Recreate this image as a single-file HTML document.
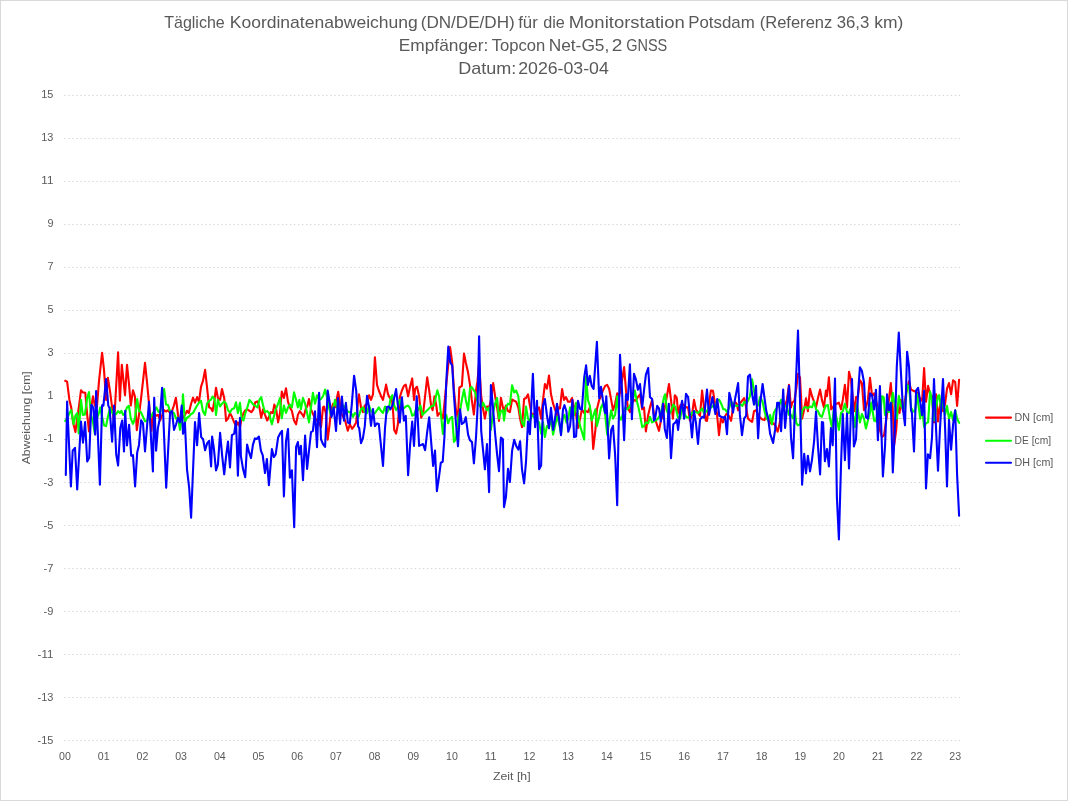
<!DOCTYPE html><html><head><meta charset="utf-8"><title>Tägliche Koordinatenabweichung</title>
<style>html,body{margin:0;padding:0;background:#fff}svg{display:block}text{font-family:"Liberation Sans",sans-serif;fill:#595959}</style></head><body>
<svg width="1068" height="801" viewBox="0 0 1068 801">
<rect x="0" y="0" width="1068" height="801" fill="#fff"/>
<rect x="0.5" y="0.5" width="1067" height="800" fill="none" stroke="#d9d9d9" stroke-width="1"/>
<g font-size="17">
<text y="28.0"><tspan x="164.20" textLength="60.60" lengthAdjust="spacingAndGlyphs">Tägliche</tspan> <tspan x="229.70" textLength="188.10" lengthAdjust="spacingAndGlyphs">Koordinatenabweichung</tspan> <tspan x="420.70" textLength="94.10" lengthAdjust="spacingAndGlyphs">(DN/DE/DH)</tspan> <tspan x="518.20" textLength="19.60" lengthAdjust="spacingAndGlyphs">für</tspan> <tspan x="543.20" textLength="21.60" lengthAdjust="spacingAndGlyphs">die</tspan> <tspan x="568.70" textLength="116.10" lengthAdjust="spacingAndGlyphs">Monitorstation</tspan> <tspan x="688.20" textLength="66.60" lengthAdjust="spacingAndGlyphs">Potsdam</tspan> <tspan x="759.70" textLength="72.60" lengthAdjust="spacingAndGlyphs">(Referenz</tspan> <tspan x="836.70" textLength="32.60" lengthAdjust="spacingAndGlyphs">36,3</tspan> <tspan x="874.20" textLength="29.10" lengthAdjust="spacingAndGlyphs">km)</tspan></text>
<text y="51.0"><tspan x="398.70" textLength="89.60" lengthAdjust="spacingAndGlyphs">Empfänger:</tspan> <tspan x="491.70" textLength="53.60" lengthAdjust="spacingAndGlyphs">Topcon</tspan> <tspan x="548.70" textLength="60.60" lengthAdjust="spacingAndGlyphs">Net-G5,</tspan> <tspan x="611.70" textLength="10.60" lengthAdjust="spacingAndGlyphs">2</tspan> <tspan x="626.20" textLength="41.10" lengthAdjust="spacingAndGlyphs">GNSS</tspan></text>
<text y="73.6"><tspan x="458.20" textLength="58.10" lengthAdjust="spacingAndGlyphs">Datum:</tspan> <tspan x="518.20" textLength="90.60" lengthAdjust="spacingAndGlyphs">2026-03-04</tspan></text>
</g>
<g stroke="#d6d6d6" stroke-width="1" stroke-dasharray="1.4 2.63" stroke-dashoffset="-0.2" fill="none">
<line x1="64" y1="95.5" x2="960" y2="95.5"/>
<line x1="64" y1="138.5" x2="960" y2="138.5"/>
<line x1="64" y1="181.5" x2="960" y2="181.5"/>
<line x1="64" y1="224.5" x2="960" y2="224.5"/>
<line x1="64" y1="267.5" x2="960" y2="267.5"/>
<line x1="64" y1="310.5" x2="960" y2="310.5"/>
<line x1="64" y1="353.5" x2="960" y2="353.5"/>
<line x1="64" y1="396.5" x2="960" y2="396.5"/>
<line x1="64" y1="439.5" x2="960" y2="439.5"/>
<line x1="64" y1="482.5" x2="960" y2="482.5"/>
<line x1="64" y1="525.5" x2="960" y2="525.5"/>
<line x1="64" y1="568.5" x2="960" y2="568.5"/>
<line x1="64" y1="611.5" x2="960" y2="611.5"/>
<line x1="64" y1="654.5" x2="960" y2="654.5"/>
<line x1="64" y1="697.5" x2="960" y2="697.5"/>
<line x1="64" y1="740.5" x2="960" y2="740.5"/>
</g>
<line x1="64" y1="418.5" x2="960" y2="418.5" stroke="#d0d0d0" stroke-width="1"/>
<g font-size="11.5" text-anchor="end">
<text x="53.4" y="97.9" textLength="12.1" lengthAdjust="spacingAndGlyphs">15</text>
<text x="53.4" y="141.0" textLength="12.1" lengthAdjust="spacingAndGlyphs">13</text>
<text x="53.4" y="184.0" textLength="12.1" lengthAdjust="spacingAndGlyphs">11</text>
<text x="53.4" y="227.1" textLength="6.0" lengthAdjust="spacingAndGlyphs">9</text>
<text x="53.4" y="270.2" textLength="6.0" lengthAdjust="spacingAndGlyphs">7</text>
<text x="53.4" y="313.2" textLength="6.0" lengthAdjust="spacingAndGlyphs">5</text>
<text x="53.4" y="356.3" textLength="6.0" lengthAdjust="spacingAndGlyphs">3</text>
<text x="53.4" y="399.4" textLength="6.0" lengthAdjust="spacingAndGlyphs">1</text>
<text x="53.4" y="442.4" textLength="9.8" lengthAdjust="spacingAndGlyphs">-1</text>
<text x="53.4" y="485.5" textLength="9.8" lengthAdjust="spacingAndGlyphs">-3</text>
<text x="53.4" y="528.6" textLength="9.8" lengthAdjust="spacingAndGlyphs">-5</text>
<text x="53.4" y="571.6" textLength="9.8" lengthAdjust="spacingAndGlyphs">-7</text>
<text x="53.4" y="614.7" textLength="9.8" lengthAdjust="spacingAndGlyphs">-9</text>
<text x="53.4" y="657.8" textLength="15.8" lengthAdjust="spacingAndGlyphs">-11</text>
<text x="53.4" y="700.8" textLength="15.8" lengthAdjust="spacingAndGlyphs">-13</text>
<text x="53.4" y="743.9" textLength="15.8" lengthAdjust="spacingAndGlyphs">-15</text>
</g>
<g font-size="11.5" text-anchor="middle">
<text x="65.0" y="759.8" textLength="11.8" lengthAdjust="spacingAndGlyphs">00</text>
<text x="103.7" y="759.8" textLength="11.8" lengthAdjust="spacingAndGlyphs">01</text>
<text x="142.4" y="759.8" textLength="11.8" lengthAdjust="spacingAndGlyphs">02</text>
<text x="181.1" y="759.8" textLength="11.8" lengthAdjust="spacingAndGlyphs">03</text>
<text x="219.8" y="759.8" textLength="11.8" lengthAdjust="spacingAndGlyphs">04</text>
<text x="258.5" y="759.8" textLength="11.8" lengthAdjust="spacingAndGlyphs">05</text>
<text x="297.2" y="759.8" textLength="11.8" lengthAdjust="spacingAndGlyphs">06</text>
<text x="335.9" y="759.8" textLength="11.8" lengthAdjust="spacingAndGlyphs">07</text>
<text x="374.6" y="759.8" textLength="11.8" lengthAdjust="spacingAndGlyphs">08</text>
<text x="413.3" y="759.8" textLength="11.8" lengthAdjust="spacingAndGlyphs">09</text>
<text x="452.0" y="759.8" textLength="11.8" lengthAdjust="spacingAndGlyphs">10</text>
<text x="490.7" y="759.8" textLength="11.8" lengthAdjust="spacingAndGlyphs">11</text>
<text x="529.4" y="759.8" textLength="11.8" lengthAdjust="spacingAndGlyphs">12</text>
<text x="568.1" y="759.8" textLength="11.8" lengthAdjust="spacingAndGlyphs">13</text>
<text x="606.8" y="759.8" textLength="11.8" lengthAdjust="spacingAndGlyphs">14</text>
<text x="645.5" y="759.8" textLength="11.8" lengthAdjust="spacingAndGlyphs">15</text>
<text x="684.2" y="759.8" textLength="11.8" lengthAdjust="spacingAndGlyphs">16</text>
<text x="722.9" y="759.8" textLength="11.8" lengthAdjust="spacingAndGlyphs">17</text>
<text x="761.6" y="759.8" textLength="11.8" lengthAdjust="spacingAndGlyphs">18</text>
<text x="800.3" y="759.8" textLength="11.8" lengthAdjust="spacingAndGlyphs">19</text>
<text x="839.0" y="759.8" textLength="11.8" lengthAdjust="spacingAndGlyphs">20</text>
<text x="877.8" y="759.8" textLength="11.8" lengthAdjust="spacingAndGlyphs">21</text>
<text x="916.5" y="759.8" textLength="11.8" lengthAdjust="spacingAndGlyphs">22</text>
<text x="955.2" y="759.8" textLength="11.8" lengthAdjust="spacingAndGlyphs">23</text>
</g>
<text x="511.8" y="780" font-size="11.5" text-anchor="middle" textLength="37.5" lengthAdjust="spacingAndGlyphs">Zeit [h]</text>
<text transform="translate(30 417.8) rotate(-90)" font-size="11.5" text-anchor="middle" textLength="93" lengthAdjust="spacingAndGlyphs">Abweichung [cm]</text>
<g fill="none" stroke-width="2.1" stroke-linejoin="round" stroke-linecap="round">
<polyline stroke="#ff0000" points="65.2,380.8 67.1,381.6 69.4,399.9 71.2,407.4 73.1,422.4 75.4,432.1 77.2,418.6 79.1,405.5 81.0,390.2 82.8,392.4 85.3,392.8 87.2,414.9 89.0,431.4 90.9,409.3 93.0,396.2 94.8,405.5 96.9,407.4 99.0,381.2 102.1,352.7 104.0,369.9 106.1,399.9 107.9,377.8 110.2,392.4 112.1,407.4 114.1,422.4 118.1,352.2 119.9,400.8 121.8,364.7 125.0,395.2 127.0,364.7 128.9,383.1 130.8,405.5 133.0,390.2 134.9,396.2 136.8,430.2 139.0,414.9 140.9,399.9 143.0,381.2 145.0,362.8 147.1,383.1 149.0,403.7 151.4,430.8 153.1,413.0 156.4,415.8 158.3,414.9 160.2,420.5 164.1,410.2 166.0,411.5 168.1,410.2 169.9,413.0 172.0,411.1 173.9,405.5 175.9,397.7 178.0,414.9 180.0,422.4 184.9,414.9 187.0,410.8 188.8,413.0 191.1,403.7 193.0,397.7 195.0,402.7 197.1,397.1 199.0,401.8 201.0,386.8 202.9,381.2 205.1,369.9 207.0,386.8 209.1,407.4 210.9,408.3 212.6,411.1 214.5,399.9 216.0,387.7 217.9,398.0 220.1,399.9 222.0,389.0 224.2,398.0 226.1,420.9 228.0,418.6 230.0,413.0 231.9,416.8 234.2,422.4 236.0,426.1 237.9,422.4 240.0,427.1 241.6,418.6 243.5,413.0 245.4,410.2 247.3,409.3 249.5,410.8 251.4,412.1 253.4,409.3 255.3,402.2 257.4,401.4 259.4,407.4 261.2,417.7 263.1,409.3 265.0,414.9 267.2,420.5 269.1,416.8 271.0,412.1 272.8,413.0 274.3,404.6 276.2,409.3 278.1,422.4 280.0,413.0 281.8,391.5 283.9,398.0 286.0,388.3 288.0,401.8 289.9,407.4 291.9,411.1 294.0,420.5 296.1,424.3 297.9,414.9 299.8,411.1 301.9,414.0 303.7,416.8 305.6,409.3 307.5,405.5 309.0,399.0 311.0,409.3 315.0,418.6 317.0,420.5 318.9,422.4 321.0,427.1 323.0,407.4 324.0,406.5 325.8,413.0 327.7,439.6 329.6,424.3 330.9,411.1 333.0,403.7 335.0,407.4 338.2,391.7 339.5,399.9 341.0,413.0 345.1,420.5 347.8,430.8 349.8,424.3 352.1,428.9 354.1,426.1 356.2,422.4 358.1,399.9 359.0,394.3 361.0,407.4 362.9,412.1 364.8,405.5 367.0,403.7 369.1,395.2 371.0,399.9 373.0,394.3 374.9,357.2 377.0,384.9 378.8,390.5 381.1,396.2 383.0,399.9 386.1,384.6 388.0,394.3 389.9,398.0 391.8,397.1 393.3,414.9 394.2,429.9 396.1,433.6 397.9,424.3 399.8,397.1 401.9,390.5 403.9,385.9 405.8,384.6 408.1,396.2 410.1,386.8 412.2,378.4 414.0,399.9 415.2,388.7 417.0,386.8 419.1,396.2 421.2,417.7 423.2,413.0 425.1,396.2 427.2,377.4 429.2,390.5 431.1,405.5 432.6,410.2 434.5,396.2 436.3,405.5 437.6,415.8 439.5,413.0 441.4,414.9 442.9,418.6 444.8,399.9 446.6,381.2 448.5,362.5 450.0,353.1 450.1,347.1 452.2,362.5 454.0,390.5 455.9,409.3 458.0,418.6 459.3,387.7 461.9,385.9 464.0,353.5 465.8,362.5 468.1,372.8 470.0,384.9 471.8,399.9 473.9,414.5 476.0,390.5 477.5,381.2 479.1,362.5 481.2,396.2 483.1,409.3 484.9,418.6 487.0,406.5 489.1,407.4 490.9,399.9 493.2,383.1 495.1,396.2 497.1,407.4 499.0,420.9 500.9,397.7 502.9,407.4 504.0,411.1 505.9,405.5 508.0,411.1 509.9,412.1 512.1,399.5 514.2,400.8 516.2,401.8 518.3,407.4 520.1,418.6 522.0,427.1 524.1,399.0 526.0,398.0 528.0,394.3 529.9,405.5 531.8,414.9 535.5,413.0 539.1,407.4 541.1,418.6 543.0,399.9 544.9,384.0 546.9,388.7 549.0,375.6 551.0,394.3 553.1,403.7 555.0,409.3 557.0,414.9 558.9,407.4 560.0,408.3 562.1,389.0 564.0,399.9 566.0,397.1 568.1,401.8 570.1,401.8 572.0,398.0 574.1,407.4 576.1,414.9 578.0,428.0 580.1,418.6 581.9,409.3 584.2,413.0 586.1,411.1 587.9,412.1 589.8,407.4 591.7,420.5 593.2,449.0 595.4,429.9 596.9,409.3 599.2,399.9 601.0,396.2 602.9,390.5 605.2,385.9 607.2,384.9 609.1,388.7 611.2,399.9 613.0,410.2 615.1,403.7 617.2,393.4 619.2,396.2 621.1,386.8 624.1,367.1 626.0,390.5 627.8,407.4 629.9,412.1 631.9,403.7 634.0,399.9 635.9,400.8 637.9,397.1 640.0,394.3 642.2,409.3 644.0,407.4 645.9,431.4 648.2,414.9 650.0,407.4 652.1,399.9 654.0,414.9 656.2,422.4 659.0,430.8 660.9,420.5 663.0,414.9 664.8,407.4 666.9,396.2 669.0,384.0 671.0,399.9 672.9,418.6 674.9,395.2 676.8,398.0 678.1,413.0 680.2,405.5 682.1,403.7 684.1,405.5 686.0,407.4 688.1,407.4 689.9,420.5 692.0,414.9 694.0,399.9 695.9,409.3 698.0,413.0 700.0,415.8 702.1,390.5 704.0,407.4 705.8,420.5 707.0,420.9 709.0,403.7 710.9,390.5 713.0,390.9 715.0,403.7 716.9,413.0 719.0,435.1 720.8,418.6 722.9,422.4 724.8,416.8 727.0,413.0 729.3,416.8 731.1,420.9 733.0,407.4 734.9,401.8 736.7,403.7 738.1,410.2 739.9,403.7 742.0,400.8 744.2,398.0 746.1,407.4 748.0,418.6 750.0,420.5 752.1,422.0 754.0,411.1 756.0,410.2 758.1,414.9 760.1,417.7 762.6,419.6 764.5,420.1 766.3,414.9 768.2,418.6 770.1,422.4 771.9,424.3 773.8,423.3 775.7,426.1 777.6,431.7 779.1,426.1 781.1,414.9 783.2,407.4 785.1,405.5 786.9,399.9 789.0,384.9 791.0,407.4 792.2,402.7 794.4,400.8 796.3,388.7 798.0,373.7 800.0,377.4 802.1,418.6 804.2,409.3 806.0,398.4 807.9,411.1 810.0,388.7 812.0,396.2 814.1,401.8 816.0,407.4 818.0,398.0 820.1,389.6 821.9,399.9 824.0,407.4 825.9,390.5 827.0,396.2 828.9,377.4 831.2,409.3 832.7,407.4 834.0,405.5 836.5,403.7 838.9,402.7 841.0,409.3 842.8,399.9 844.9,384.9 847.0,407.4 849.0,371.8 850.9,379.3 853.0,399.9 854.8,411.1 856.0,397.1 858.0,396.2 859.9,380.2 861.9,383.1 864.0,410.2 865.9,407.4 867.9,399.9 870.0,377.8 872.1,396.2 874.1,393.4 876.0,399.9 877.9,409.3 879.9,429.9 882.0,437.0 884.0,435.5 885.9,422.4 888.0,407.4 890.8,383.1 892.8,409.3 894.2,444.9 896.2,429.9 897.7,407.4 899.6,413.0 900.9,399.9 903.0,411.1 905.0,399.9 907.1,388.7 909.0,381.2 911.0,389.6 912.9,390.5 914.9,391.5 917.0,392.4 919.1,397.1 921.1,399.9 922.1,400.8 924.1,368.1 926.0,401.8 928.1,385.9 930.1,394.3 932.0,396.2 934.0,422.4 936.1,394.3 938.0,421.4 939.3,409.3 941.2,399.9 943.0,411.1 945.1,403.7 947.0,388.7 949.0,383.1 951.1,394.3 953.1,380.2 955.2,382.1 957.1,405.9 959.1,379.7"/>
<polyline stroke="#00ff00" points="65.2,420.9 67.1,418.6 69.4,413.0 71.2,410.2 73.5,424.3 75.4,415.8 77.2,413.0 78.7,433.4 81.0,399.9 82.8,414.9 84.9,414.5 87.2,398.0 89.0,392.0 90.9,414.9 93.0,422.4 94.8,433.6 96.9,418.6 99.0,413.0 100.3,407.4 102.1,416.8 104.0,425.2 106.1,426.1 107.9,416.8 110.2,407.4 112.4,413.0 114.3,414.9 116.2,414.0 118.1,411.1 119.9,413.0 121.4,410.8 123.1,414.9 125.0,413.0 127.0,407.4 128.9,405.9 130.8,418.6 133.0,423.9 134.9,418.6 137.2,399.0 139.0,411.1 140.9,412.1 143.0,416.8 145.0,421.4 147.1,420.5 149.0,418.6 151.0,416.8 152.9,413.0 154.9,410.2 156.4,407.4 158.3,411.5 160.2,412.6 162.1,399.9 164.1,389.0 166.0,404.6 168.1,405.1 169.9,411.1 172.0,411.5 173.9,413.0 176.1,418.6 178.0,417.7 180.0,429.9 181.7,418.6 183.0,394.3 184.9,422.4 187.0,417.7 189.2,416.4 191.1,414.0 193.0,413.0 195.0,409.3 197.1,405.5 199.0,402.7 201.0,400.8 202.9,411.1 205.1,414.9 207.0,403.7 209.1,400.8 210.9,399.9 212.6,396.5 214.5,399.0 216.0,414.9 217.9,399.9 220.1,406.5 222.0,403.7 224.2,401.4 226.1,403.7 228.0,410.2 230.0,412.6 231.9,409.3 234.2,408.3 236.0,402.2 237.9,413.0 240.0,402.7 241.6,418.6 243.5,420.5 245.4,413.0 247.3,407.4 249.5,399.9 251.4,402.2 253.4,404.6 255.3,405.9 257.4,407.4 259.4,399.9 261.2,397.1 263.1,405.5 265.0,412.1 267.2,411.1 269.1,413.0 271.0,421.4 271.9,424.3 273.8,416.8 275.8,409.3 278.1,403.7 280.0,398.0 281.8,418.3 283.9,405.5 286.0,413.0 288.0,407.4 289.9,404.6 291.9,407.4 294.0,392.4 296.1,399.9 297.9,407.4 299.3,399.9 300.9,409.3 303.0,398.0 305.1,403.7 307.1,413.0 309.0,422.4 311.0,407.4 312.9,392.8 315.0,403.7 317.0,395.2 319.1,399.9 321.0,399.0 323.0,396.2 325.1,389.6 327.2,398.0 329.0,407.4 330.9,414.9 333.0,409.3 335.0,399.9 337.1,407.4 339.3,411.1 341.8,407.4 343.6,405.5 347.4,411.1 351.1,413.0 353.0,416.8 354.9,413.0 356.7,414.0 358.6,416.8 361.0,409.3 362.9,407.4 364.8,412.1 367.0,413.0 369.1,405.5 371.0,411.1 373.0,413.0 374.9,413.0 377.0,410.2 378.8,407.4 381.1,411.1 383.0,413.0 385.0,406.5 386.9,413.0 388.8,409.3 390.4,399.0 392.3,395.2 394.2,405.5 396.1,410.2 397.9,407.4 399.8,399.9 401.9,407.4 403.9,408.3 405.8,406.5 408.1,405.5 410.1,408.3 412.2,415.8 414.0,414.9 416.1,409.3 418.0,410.2 420.4,405.5 422.5,414.9 424.3,413.0 426.4,411.1 428.3,409.3 430.1,407.4 432.0,405.9 433.9,405.5 435.4,399.0 437.3,390.2 439.1,396.2 441.0,414.9 442.9,434.0 444.8,418.6 446.3,414.9 448.1,423.3 450.0,418.6 452.2,416.8 454.0,442.0 455.9,439.2 458.0,418.6 460.0,411.1 461.9,399.9 464.0,389.6 465.8,399.9 468.1,410.2 470.0,388.7 471.5,386.8 473.3,389.6 475.2,392.4 477.1,399.9 479.1,405.5 481.2,407.4 483.1,402.7 484.9,406.5 487.0,410.2 489.1,407.4 490.9,429.9 493.0,413.0 495.1,403.7 497.1,398.0 499.0,418.6 500.9,411.1 502.9,410.2 504.0,420.5 505.9,407.4 508.0,403.7 509.9,404.6 512.1,385.3 514.2,392.4 516.2,390.5 518.3,396.2 520.1,413.0 522.0,422.4 524.1,426.1 526.0,406.5 528.0,418.6 529.9,421.4 531.8,414.9 535.5,418.6 539.1,422.4 541.1,433.6 543.0,422.4 544.9,437.0 546.9,426.1 549.0,427.1 551.0,418.6 553.1,434.6 555.0,426.1 557.0,416.8 558.9,422.4 561.0,433.6 563.0,416.8 564.5,414.9 566.4,422.4 568.3,418.6 570.1,407.4 572.4,418.6 574.1,414.9 576.1,402.7 578.0,414.9 580.1,426.1 581.9,431.7 584.2,439.6 586.1,376.5 587.9,399.9 589.8,405.5 591.7,420.5 593.6,414.9 595.4,409.3 596.9,426.1 599.2,416.8 601.0,407.4 602.9,403.7 605.2,414.9 607.2,434.6 609.1,422.4 611.2,410.2 613.0,418.6 615.1,414.9 617.2,396.2 619.2,416.8 621.1,419.6 623.1,413.0 625.4,407.4 627.3,409.3 629.1,407.4 631.0,403.7 632.9,399.9 634.8,390.5 636.6,399.9 638.5,407.4 640.0,414.9 642.2,427.1 644.0,426.1 645.9,422.4 648.2,423.3 650.0,416.8 652.1,422.4 654.0,421.4 655.8,420.5 658.1,418.6 660.0,414.9 661.8,409.3 663.9,397.1 665.2,394.3 666.9,411.1 668.8,414.9 671.0,411.1 673.3,404.6 675.5,407.4 678.1,417.7 680.2,418.6 682.1,407.4 684.1,413.0 686.0,416.8 688.1,417.7 689.9,416.8 692.0,413.0 694.0,411.1 695.9,412.1 698.0,413.0 700.0,411.1 702.1,408.3 704.0,413.0 707.0,411.1 709.0,407.4 711.5,407.4 713.3,405.5 715.4,407.4 717.3,399.9 719.3,399.9 721.2,403.7 723.3,409.3 725.1,409.3 727.0,412.1 729.3,407.4 731.1,401.8 733.0,403.7 734.9,405.5 736.7,405.9 738.6,405.5 740.5,404.6 742.4,405.9 744.2,401.8 746.1,403.3 748.0,400.8 750.0,396.2 752.1,379.3 754.0,390.5 756.0,403.7 758.1,405.5 760.1,397.1 762.6,401.8 764.5,411.1 766.3,417.7 768.2,420.5 770.1,414.9 771.9,424.3 773.8,413.0 775.7,409.3 777.2,407.4 779.1,405.5 781.1,399.9 783.2,407.4 785.1,405.5 786.9,407.4 789.0,414.9 791.0,414.9 793.1,418.6 794.4,405.5 796.3,423.3 798.0,425.2 800.0,424.6 802.1,411.1 804.2,407.4 806.0,407.0 807.9,408.3 810.0,406.5 812.0,407.4 814.1,401.4 816.0,409.3 818.0,411.1 820.1,415.8 821.9,416.8 824.0,410.2 825.9,405.5 827.9,405.1 830.0,418.6 831.8,427.1 834.0,407.4 835.9,414.9 838.9,429.9 841.0,413.0 842.8,411.1 844.9,403.7 847.0,412.1 849.0,413.0 850.9,407.4 853.0,414.9 854.8,427.1 856.9,403.7 859.9,422.4 861.9,414.0 864.0,418.6 865.9,428.4 867.9,420.5 870.0,413.0 871.3,402.5 874.1,420.5 876.0,421.4 877.9,407.4 879.9,414.9 882.0,396.2 883.7,397.1 885.0,414.9 887.0,411.1 888.9,412.1 890.8,407.4 892.8,392.8 894.9,405.5 896.8,418.6 898.8,395.8 900.9,405.5 903.0,409.3 905.0,407.4 907.1,384.9 909.0,386.8 911.0,407.4 912.9,411.1 914.9,412.1 917.2,394.5 920.2,418.6 922.1,407.4 924.1,427.1 926.0,423.3 928.1,422.4 930.1,391.5 932.0,399.9 934.0,420.5 936.1,407.4 938.0,396.2 939.3,395.2 941.2,409.3 943.0,399.9 945.1,414.9 947.0,405.9 949.0,418.6 951.1,412.1 953.1,420.5 955.2,410.2 957.1,418.6 959.1,422.8"/>
<polyline stroke="#0000ff" points="65.8,474.9 67.1,401.5 70.9,486.5 72.7,450.6 75.0,447.8 77.2,489.5 81.0,421.5 83.0,442.7 85.1,422.1 87.2,461.4 89.2,457.7 91.3,404.7 93.3,407.5 95.2,434.6 96.1,391.0 99.9,484.6 102.1,405.2 103.4,405.6 106.1,379.0 108.3,405.6 109.6,408.4 112.1,441.6 114.1,405.6 116.2,454.3 118.1,465.5 120.3,428.1 122.2,420.6 124.0,451.5 125.2,410.9 127.0,445.5 129.1,424.7 131.2,455.8 133.0,455.2 135.1,486.5 137.2,452.4 139.0,444.9 141.1,420.2 143.0,423.4 145.0,451.5 149.0,401.9 152.9,471.5 154.2,397.8 156.1,450.6 157.9,428.1 159.8,418.7 162.1,387.8 166.2,487.6 170.1,412.2 172.0,411.2 174.0,430.0 176.1,424.3 178.0,417.8 179.9,422.5 181.7,405.6 183.0,433.7 184.9,422.5 187.0,469.3 189.2,488.0 191.1,517.6 195.0,422.1 197.1,445.3 199.1,413.1 201.2,437.1 203.1,439.3 205.1,450.2 207.2,443.1 209.1,440.8 211.1,466.5 212.1,436.5 213.9,448.7 216.0,470.4 217.9,464.6 220.1,432.8 222.2,456.2 224.2,474.3 226.1,456.2 228.0,441.6 230.0,467.4 231.9,435.2 234.2,433.7 236.0,421.0 237.9,475.7 240.0,417.8 240.9,456.2 243.1,469.3 245.2,477.2 247.1,444.6 249.1,452.4 251.0,458.1 252.9,444.9 254.9,438.4 256.8,439.0 258.9,436.5 260.9,450.6 262.7,455.2 265.0,473.0 266.9,459.0 268.9,485.2 271.9,449.1 273.8,457.1 275.7,454.3 278.1,437.5 280.0,433.7 282.0,430.9 283.9,496.4 286.0,441.2 288.0,429.0 289.9,477.7 291.9,470.2 294.2,527.3 296.1,446.8 297.9,442.1 299.3,454.3 300.9,445.9 303.0,480.1 305.1,435.6 307.1,468.9 309.0,450.6 311.0,432.2 312.9,430.9 315.0,411.2 317.0,447.2 319.1,392.9 321.0,439.3 323.0,444.0 325.1,446.8 327.7,390.6 329.6,401.9 331.5,416.9 333.7,407.5 336.0,430.9 338.0,398.1 340.1,424.0 341.9,396.6 344.0,420.6 345.9,402.8 347.8,422.5 349.8,423.4 351.7,405.6 354.1,375.7 356.2,390.6 358.1,426.2 359.2,428.1 361.0,443.1 362.9,438.4 364.8,426.2 367.0,395.9 369.1,407.5 371.0,425.8 373.0,409.0 374.9,426.2 377.0,423.4 378.8,424.0 381.1,446.8 383.0,465.9 385.0,428.1 386.9,407.1 388.8,406.6 390.4,409.4 392.7,404.7 396.1,389.1 397.9,405.6 399.8,422.5 401.9,397.2 403.9,420.6 405.8,415.9 408.1,475.3 410.1,444.9 412.2,421.5 414.0,445.9 416.7,396.3 419.1,445.9 421.2,444.9 423.0,444.0 425.1,450.2 427.2,431.8 429.2,417.2 431.1,441.2 433.1,465.9 435.0,450.6 436.9,491.2 439.0,476.8 440.8,462.7 442.7,461.8 444.4,437.5 446.3,381.3 448.3,346.6 450.3,362.5 452.2,365.4 454.0,396.3 455.9,422.5 458.0,446.3 460.0,409.4 461.9,424.0 464.0,422.5 465.8,417.2 468.1,434.6 470.0,440.3 472.0,442.1 473.9,463.3 476.0,437.5 477.5,409.4 479.1,336.3 481.2,430.9 483.1,450.6 484.9,469.3 487.0,444.0 489.1,492.1 490.9,385.0 493.0,407.5 495.1,433.7 497.1,454.3 499.0,471.2 500.9,437.5 502.9,439.3 504.0,507.1 505.9,497.4 508.0,468.9 509.9,482.0 512.1,450.6 514.2,439.7 516.2,445.9 518.3,449.6 520.1,441.2 522.0,469.3 524.1,483.3 526.0,461.8 528.0,421.5 529.9,434.1 532.9,373.8 535.1,427.2 537.0,400.9 539.1,469.3 541.1,465.5 543.0,405.6 544.9,399.1 546.9,415.0 549.0,428.1 551.0,407.9 553.1,430.0 555.0,418.7 557.0,403.7 558.9,416.9 561.0,435.2 563.0,409.4 564.5,405.2 566.4,411.2 568.3,431.8 570.1,426.2 572.4,400.0 574.1,437.1 576.1,436.5 578.0,400.9 580.1,409.0 581.9,409.4 584.2,377.5 586.1,365.4 587.9,385.0 589.8,375.7 591.7,386.0 593.6,388.8 596.9,341.9 599.2,398.1 601.0,386.9 602.9,400.0 605.2,413.1 606.3,396.3 609.1,458.4 611.2,430.0 613.0,425.8 615.1,454.3 617.2,505.2 620.0,354.7 622.0,390.6 624.1,440.3 626.0,394.4 627.8,400.0 629.9,364.4 631.9,419.1 634.0,373.8 635.9,379.4 637.9,389.7 640.0,384.1 642.2,407.4 644.0,390.5 645.9,374.6 648.2,368.1 650.0,397.1 652.1,399.0 654.0,420.5 655.1,418.6 657.2,405.9 659.0,408.3 660.9,421.4 663.0,403.7 664.8,428.9 666.9,437.9 668.8,403.7 671.0,458.3 673.3,424.3 675.5,422.4 676.8,419.6 678.1,429.9 680.2,411.1 682.1,400.8 684.1,418.6 686.0,393.9 688.1,397.1 689.9,414.9 692.0,437.4 694.0,411.1 695.9,422.4 698.0,443.9 700.0,419.6 702.1,416.8 704.0,417.7 707.0,389.6 709.0,414.9 712.4,397.1 715.4,414.0 717.3,399.0 719.3,415.8 721.2,416.8 723.3,417.7 725.1,416.8 727.0,434.2 729.3,392.8 731.1,399.9 733.0,412.6 734.9,399.9 738.1,383.1 739.9,414.9 742.0,435.1 744.2,418.3 746.1,415.8 748.0,376.5 750.0,374.6 752.1,394.3 754.0,404.6 756.0,385.9 758.1,438.3 760.1,403.7 762.6,384.0 764.5,398.0 766.3,411.1 768.2,418.6 770.1,433.6 773.1,443.0 775.1,429.9 777.2,402.7 779.1,402.7 781.1,431.2 783.2,389.6 785.1,428.0 786.9,407.4 789.0,385.9 791.0,437.4 793.1,458.3 795.2,399.9 798.0,330.6 800.0,399.9 802.1,484.6 804.2,453.8 806.0,473.3 807.9,455.7 810.0,471.4 812.0,459.8 814.1,441.1 816.0,411.5 818.0,446.7 820.1,474.4 821.9,422.0 823.1,422.4 824.9,461.3 827.0,449.0 828.9,466.4 830.9,428.1 832.7,445.3 835.0,378.5 836.9,497.4 838.9,539.5 841.0,465.5 842.8,414.0 844.9,460.3 847.0,413.5 849.0,468.4 852.0,379.0 853.9,446.4 856.0,439.3 858.0,394.4 859.9,367.2 861.9,371.0 864.0,382.2 865.9,416.9 867.9,418.7 870.0,393.4 872.1,395.3 874.1,409.4 876.0,389.7 877.9,440.3 879.9,386.0 882.9,476.4 885.0,446.8 887.0,394.4 888.9,410.3 890.8,402.8 892.8,472.5 894.9,428.1 896.8,366.3 898.8,332.6 900.9,371.9 903.0,409.4 905.0,425.3 907.1,351.7 909.0,366.3 911.0,410.3 911.9,412.7 914.0,451.5 916.1,390.6 918.1,387.8 920.2,401.9 922.1,415.0 924.1,390.8 926.0,488.4 927.9,454.3 930.1,458.1 932.0,437.5 934.0,379.0 936.1,430.0 938.0,470.6 940.0,428.1 943.0,379.0 945.1,428.1 947.0,486.5 949.0,419.7 951.1,449.6 953.1,424.3 955.2,410.3 957.1,474.9 959.1,515.7"/>
</g>
<g stroke-width="2.1" stroke-linecap="round">
<line x1="986" y1="417.6" x2="1011" y2="417.6" stroke="#ff0000"/>
<line x1="986" y1="440.7" x2="1011" y2="440.7" stroke="#00ff00"/>
<line x1="986" y1="462.8" x2="1011" y2="462.8" stroke="#0000ff"/>
</g>
<g font-size="11.5">
<text x="1014.6" y="420.9" textLength="38.7" lengthAdjust="spacingAndGlyphs">DN [cm]</text>
<text x="1014.6" y="444.0" textLength="36.5" lengthAdjust="spacingAndGlyphs">DE [cm]</text>
<text x="1014.6" y="466.1" textLength="38.7" lengthAdjust="spacingAndGlyphs">DH [cm]</text>
</g>
</svg></body></html>
